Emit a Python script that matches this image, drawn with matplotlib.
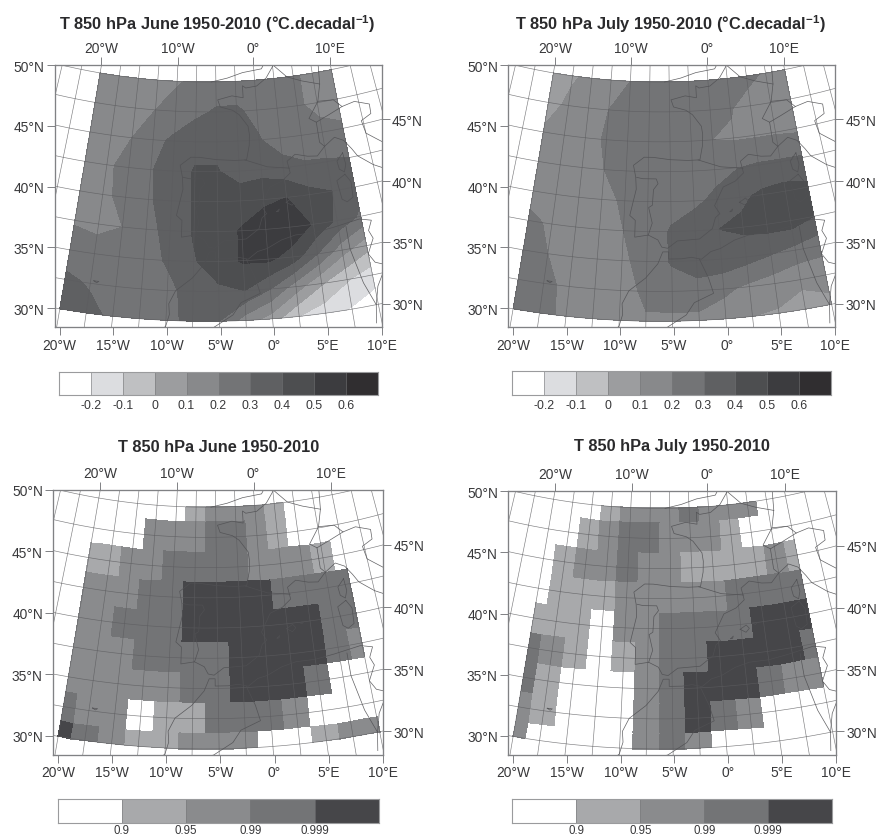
import numpy as np
import matplotlib
matplotlib.use("Agg")
import matplotlib.pyplot as plt
from matplotlib.colors import ListedColormap

plt.rcParams['font.family'] = ['Liberation Sans', 'DejaVu Sans']
plt.rcParams['mathtext.fontset'] = 'custom'
plt.rcParams['mathtext.bf'] = 'Liberation Sans:bold'
plt.rcParams['mathtext.rm'] = 'Liberation Sans'

W, H = 876, 837

lons = [-20, -17.5, -15, -12.5, -10, -7.5, -5, -2.5, 0, 2.5, 5, 7.5, 10]
lats = [50, 47.5, 45, 42.5, 40, 37.5, 35, 32.5, 30]

trend_june = [
    [.13, .14, .15, .16, .19, .22, .25, .26, .26, .25, .21, .18, .17],
    [.14, .16, .18, .20, .24, .28, .31, .31, .28, .24, .21, .18, .17],
    [.15, .18, .20, .27, .32, .36, .38, .37, .305, .26, .24, .22, .21],
    [.15, .18, .24, .295, .34, .41, .405, .37, .37, .33, .31, .31, .30],
    [.15, .17, .24, .29, .34, .41, .44, .44, .47, .50, .43, .40, .35],
    [.19, .17, .20, .27, .33, .41, .45, .51, .58, .57, .49, .38, .28],
    [.25, .25, .26, .27, .31, .39, .46, .51, .52, .46, .30, .14, .04],
    [.32, .29, .27, .27, .28, .33, .38, .40, .30, .15, .01, -.09, -.16],
    [.38, .33, .28, .27, .28, .32, .30, .15, .05, -.10, -.16, -.21, -.25],
]
trend_july = [
    [.05, .09, .12, .16, .20, .23, .25, .25, .25, .24, .22, .19, .16],
    [.07, .115, .15, .20, .23, .25, .26, .26, .26, .205, .17, .14, .13],
    [.11, .14, .17, .21, .25, .27, .28, .27, .20, .19, .19, .19, .18],
    [.13, .15, .17, .20, .24, .26, .27, .27, .27, .295, .31, .31, .31],
    [.15, .16, .17, .18, .21, .24, .26, .28, .32, .38, .42, .44, .42],
    [.23, .18, .17, .17, .20, .24, .31, .35, .40, .42, .44, .45, .40],
    [.25, .20, .18, .17, .18, .24, .31, .34, .37, .34, .305, .27, .24],
    [.25, .23, .17, .16, .16, .22, .25, .27, .22, .18, .15, .115, .13],
    [.25, .23, .18, .16, .17, .19, .18, .17, .15, .10, .09, .07, .08],
]
signif_june = [
    [0, 0, 0, 0, 0, 1, 2, 2, 2, 1, 0, 0, 0],
    [0, 0, 0, 2, 2, 2, 3, 3, 2, 1, 0, 0, 0],
    [1, 1, 2, 2, 3, 3, 3, 3, 2, 2, 2, 1, 0],
    [2, 2, 2, 3, 3, 4, 4, 4, 4, 3, 3, 3, 3],
    [2, 2, 3, 3, 3, 4, 4, 4, 4, 4, 4, 3, 3],
    [2, 2, 2, 3, 3, 3, 3, 4, 4, 4, 4, 3, 2],
    [2, 2, 2, 2, 2, 3, 3, 4, 4, 4, 3, 0, 0],
    [3, 2, 2, 0, 1, 1, 3, 3, 3, 2, 0, 0, 0],
    [4, 3, 2, 1, 1, 2, 2, 2, 0, 0, 1, 2, 2],
]
signif_july = [
    [0, 0, 0, 1, 2, 2, 2, 3, 2, 2, 2, 0, 0],
    [0, 0, 1, 2, 3, 3, 2, 2, 2, 1, 0, 0, 0],
    [0, 1, 2, 2, 3, 2, 2, 1, 1, 1, 1, 2, 1],
    [0, 1, 1, 1, 2, 2, 2, 2, 2, 3, 3, 3, 3],
    [1, 1, 1, 0, 2, 2, 3, 3, 3, 3, 4, 4, 4],
    [3, 2, 1, 0, 1, 2, 3, 3, 4, 4, 4, 4, 3],
    [3, 1, 0, 0, 0, 2, 3, 4, 4, 4, 3, 2, 2],
    [2, 1, 0, 0, 0, 2, 3, 4, 3, 2, 0, 0, 0],
    [2, 0, 0, 0, 0, 2, 3, 2, 0, 0, 0, 0, 0],
]

trend_levels = [-1, -.2, -.1, 0, .1, .2, .3, .4, .5, .6, 1]
trend_labels = ['-0.2', '-0.1', '0', '0.1', '0.2', '0.3', '0.4', '0.5', '0.6']
trend_colors = ['#ffffff', '#dcdde0', '#bfc0c2', '#9c9d9f', '#88898b',
                '#737476', '#5f6062', '#4d4e50', '#3c3c3f', '#302e30']
signif_labels = ['0.9', '0.95', '0.99', '0.999']
signif_colors = ['#ffffff', '#a8a9ab', '#8a8b8d', '#737476', '#464649']

bottom_ticks = [-20, -15, -10, -5, 0, 5, 10]
bottom_labels = ['20°W', '15°W', '10°W', '5°W', '0°', '5°E', '10°E']
left_ticks = [30, 35, 40, 45, 50]
left_labels = ['30°N', '35°N', '40°N', '45°N', '50°N']
top_lons = [-20, -10, 0, 10]
top_labels = ['20°W', '10°W', '0°', '10°E']
right_lats = [30, 35, 40, 45]
right_labels = ['30°N', '35°N', '40°N', '45°N']

# Base map outlines (lon, lat)
coasts = [
    [(-5.6, 50.0), (-3.5, 50.3), (-1.5, 50.7), (1.0, 50.9), (1.4, 51.3)],
    [(2.6, 51.1), (1.5, 50.1), (0.2, 49.5), (-1.2, 49.4), (-1.6, 49.6), (-1.6, 48.6), (-3.0, 48.8),
     (-4.8, 48.5), (-4.5, 47.9), (-3.0, 47.6), (-2.2, 47.2), (-1.2, 46.2), (-1.1, 45.5), (-1.2, 44.6),
     (-1.6, 43.4), (-3.0, 43.4), (-5.0, 43.5), (-7.0, 43.7), (-8.0, 43.7), (-9.2, 43.0), (-8.9, 42.0),
     (-8.8, 41.0), (-9.4, 38.8), (-8.8, 38.4), (-8.8, 37.0), (-7.4, 37.2), (-6.4, 36.8), (-6.0, 36.2),
     (-5.4, 36.1), (-4.4, 36.7), (-2.1, 36.8), (-0.7, 37.6), (-0.3, 38.5), (0.2, 38.8), (-0.3, 39.5),
     (0.8, 41.0), (2.2, 41.4), (3.2, 42.0), (3.0, 43.0), (4.0, 43.5), (5.4, 43.2), (6.5, 43.1),
     (7.5, 43.8), (8.8, 44.4), (9.8, 44.0), (10.5, 43.2), (11.0, 42.5), (12.5, 41.5), (14.0, 40.8),
     (15.5, 40.0), (16.0, 38.8)],
    [(-11.0, 28.7), (-10.0, 29.5), (-9.7, 30.5), (-9.8, 31.4), (-9.2, 32.5), (-7.6, 33.6), (-6.4, 34.8),
     (-5.9, 35.8), (-5.3, 35.8), (-5.3, 35.2), (-4.0, 35.2), (-3.0, 35.3), (-2.0, 35.1), (-1.0, 35.7),
     (0.0, 35.9), (1.5, 36.5), (3.0, 36.8), (5.0, 36.8), (7.0, 37.0), (9.8, 37.3), (11.0, 37.0),
     (10.5, 36.2), (10.8, 35.5), (10.0, 34.3), (10.5, 33.5), (11.5, 33.1), (13.0, 32.9), (15.0, 32.3)],
    [(-8.8, 42.0), (-8.1, 41.9), (-6.6, 41.9), (-6.4, 41.5), (-6.9, 41.0), (-7.0, 39.7), (-7.4, 39.5),
     (-7.0, 38.2), (-7.4, 37.2)],
    [(-1.8, 43.4), (0.7, 42.7), (3.2, 42.4)],
    [(-2.2, 35.1), (-1.4, 33.5), (-1.0, 32.2), (-2.9, 31.5), (-3.7, 30.5), (-5.5, 29.5), (-8.7, 28.7)],
    [(2.6, 51.1), (4.2, 50.0), (6.0, 49.5), (8.2, 49.0), (7.6, 47.6), (6.2, 46.3), (7.0, 45.9), (7.0, 44.2),
     (7.5, 43.8)],
    [(7.0, 45.9), (8.5, 46.3), (10.4, 46.8), (12.0, 47.0), (13.7, 46.5), (13.6, 45.7), (12.3, 45.3),
     (12.5, 44.2), (13.6, 43.5), (16.0, 41.9), (18.4, 40.2)],
    [(7.6, 47.6), (9.5, 47.5), (10.4, 46.8)],
    [(8.2, 49.0), (8.5, 51.0)],
    [(8.3, 36.9), (8.3, 35.0), (9.0, 32.0), (9.8, 30.0), (9.5, 28.5)],
    [(11.5, 33.1), (10.3, 31.5), (9.8, 30.0)],
    [(9.4, 43.0), (9.5, 42.0), (9.2, 41.4), (8.7, 41.7), (8.6, 42.4), (9.4, 43.0)],
    [(9.2, 41.2), (9.7, 40.5), (9.6, 39.2), (8.9, 38.9), (8.4, 39.2), (8.2, 40.8), (9.2, 41.2)],
    [(2.4, 39.6), (3.1, 39.9), (3.4, 39.6), (3.0, 39.3), (2.4, 39.6)],
    [(3.8, 40.0), (4.3, 40.0), (4.1, 39.85), (3.8, 40.0)],
    [(1.3, 38.9), (1.6, 39.1), (1.5, 38.9), (1.3, 38.9)],
    [(12.5, 38.0), (15.5, 38.2), (15.1, 36.7), (12.5, 37.6), (12.5, 38.0)],
    [(-17.2, 32.75), (-16.7, 32.75), (-16.9, 32.62), (-17.2, 32.75)],
]

XLIM = (-20.42, 10)
YLIM = (28.44, 50)
GRID = '#5c5c5f'
COAST = '#505053'
TXT = '#38383a'
FRAME = '#808184'
TICK_FS = 9.9


def proj(lon, lat):
    lon, lat = np.asarray(lon, float), np.asarray(lat, float)
    r = 1899 + (50 - lat) * 35.9
    th = np.radians(0.7017 * (lon + 6.17))
    return -20 + (442 + r * np.sin(th)) / 32.23, 50 - (-1848 + r * np.cos(th)) / 36.5


def top_x(lon):
    th = np.radians(0.7017 * (np.asarray(lon, float) + 6.17))
    return -20 + 1848 * np.tan(th) / 32.23 + 442 / 32.23


def right_y(lat):
    r = 1899 + (50 - np.asarray(lat, float)) * 35.9
    return 50 - (-1848 + np.sqrt(r ** 2 - 525 ** 2)) / 36.5


def rect(x0, y0, x1, y1):
    return [x0 / W, 1 - y1 / H, (x1 - x0) / W, (y1 - y0) / H]


def base(ax):
    ax.set_xlim(*XLIM)
    ax.set_ylim(*YLIM)
    gl = np.linspace(-40, 30, 141)
    gp = np.linspace(15, 65, 101)
    for lo in np.arange(-32.5, 27.5, 2.5):
        x, y = proj(np.full_like(gp, lo), gp)
        ax.plot(x, y, color=GRID, lw=0.45, alpha=0.8, zorder=3)
    for la in np.arange(20, 62.5, 2.5):
        x, y = proj(gl, np.full_like(gl, la))
        ax.plot(x, y, color=GRID, lw=0.45, alpha=0.8, zorder=3)
    for c in coasts:
        x, y = proj([p[0] for p in c], [p[1] for p in c])
        ax.plot(x, y, color=COAST, lw=0.5, alpha=0.9, zorder=4)
    ax.set_xticks(bottom_ticks, bottom_labels)
    ax.set_yticks(left_ticks, left_labels)
    ax.tick_params(length=5.5, width=0.7, color=FRAME, labelsize=TICK_FS, labelcolor=TXT, pad=2)
    top = ax.twiny()
    top.set_xlim(*XLIM)
    top.set_xticks(top_x(top_lons), top_labels)
    top.tick_params(length=5.5, width=0.7, color=FRAME, labelsize=TICK_FS, labelcolor=TXT, pad=2)
    right = ax.twinx()
    right.set_ylim(*YLIM)
    right.set_yticks(right_y(right_lats), right_labels)
    right.tick_params(length=5.5, width=0.7, color=FRAME, labelsize=TICK_FS, labelcolor=TXT, pad=2)
    for a in (ax, top, right):
        for s in a.spines.values():
            s.set_color(FRAME)
            s.set_linewidth(0.8)


def colorbar(fig, box, colors, labels, y_label, fs=8.9):
    cax = fig.add_axes(rect(*box))
    n = len(colors)
    cax.pcolormesh(np.arange(n + 1), [0, 1], [np.arange(n)],
                   cmap=ListedColormap(colors), vmin=-0.5, vmax=n - 0.5)
    for i in range(1, n):
        cax.axvline(i, color='#77787a', lw=0.4)
    cax.set_xlim(0, n)
    cax.set_ylim(0, 1)
    cax.set_yticks([])
    cax.set_xticks(np.arange(1, n), labels)
    cax.tick_params(length=0, labelsize=fs, labelcolor=TXT, pad=y_label)
    for s in cax.spines.values():
        s.set_color('#9a9b9d')
        s.set_linewidth(0.8)


fig = plt.figure(figsize=(W / 100, H / 100), dpi=100, facecolor='white')

LON, LAT = np.meshgrid(lons, lats)
PX, PY = proj(LON, LAT)

lon_e = np.array([-20] + [l + 1.25 for l in lons[:-1]] + [10])
lat_e = np.array([50] + [l - 1.25 for l in lats[:-1]] + [30])
EX, EY = proj(*np.meshgrid(lon_e, lat_e))

panels = [
    (trend_june, rect(55, 66, 381.7, 328.3), 'T 850 hPa June 1950-2010 (°C.decadal$^{\\mathbf{-1}}$)', 217, 24),
    (trend_july, rect(508.3, 66, 835, 328.3), 'T 850 hPa July 1950-2010 (°C.decadal$^{\\mathbf{-1}}$)', 670, 24),
    (signif_june, rect(53.3, 491, 383, 756), 'T 850 hPa June 1950-2010', 219, 447),
    (signif_july, rect(508.3, 492.3, 836, 756), 'T 850 hPa July 1950-2010', 672, 447),
]
for k, (z, pos, title, tx, ty) in enumerate(panels):
    ax = fig.add_axes(pos)
    if k < 2:
        ax.contourf(PX, PY, np.array(z), levels=trend_levels, colors=trend_colors, zorder=1)
    else:
        ax.pcolormesh(EX, EY, np.array(z), cmap=ListedColormap(signif_colors), vmin=-0.5, vmax=4.5,
                      edgecolors='face', linewidth=0.1, zorder=1)
    base(ax)
    fig.text(tx / W, 1 - ty / H, title, ha='center', va='center', fontsize=11.8, fontweight='bold', color='#2a2a2c')

colorbar(fig, (59, 372.7, 378, 395.7), trend_colors, trend_labels, 3)
colorbar(fig, (512.3, 371.7, 831, 395.7), trend_colors, trend_labels, 3)
colorbar(fig, (57.7, 800, 379, 824), signif_colors, signif_labels, 0.5, fs=8.3)
colorbar(fig, (512.3, 800, 832.3, 824), signif_colors, signif_labels, 0.5, fs=8.3)

fig.savefig('out.png', dpi=100, facecolor='white')
